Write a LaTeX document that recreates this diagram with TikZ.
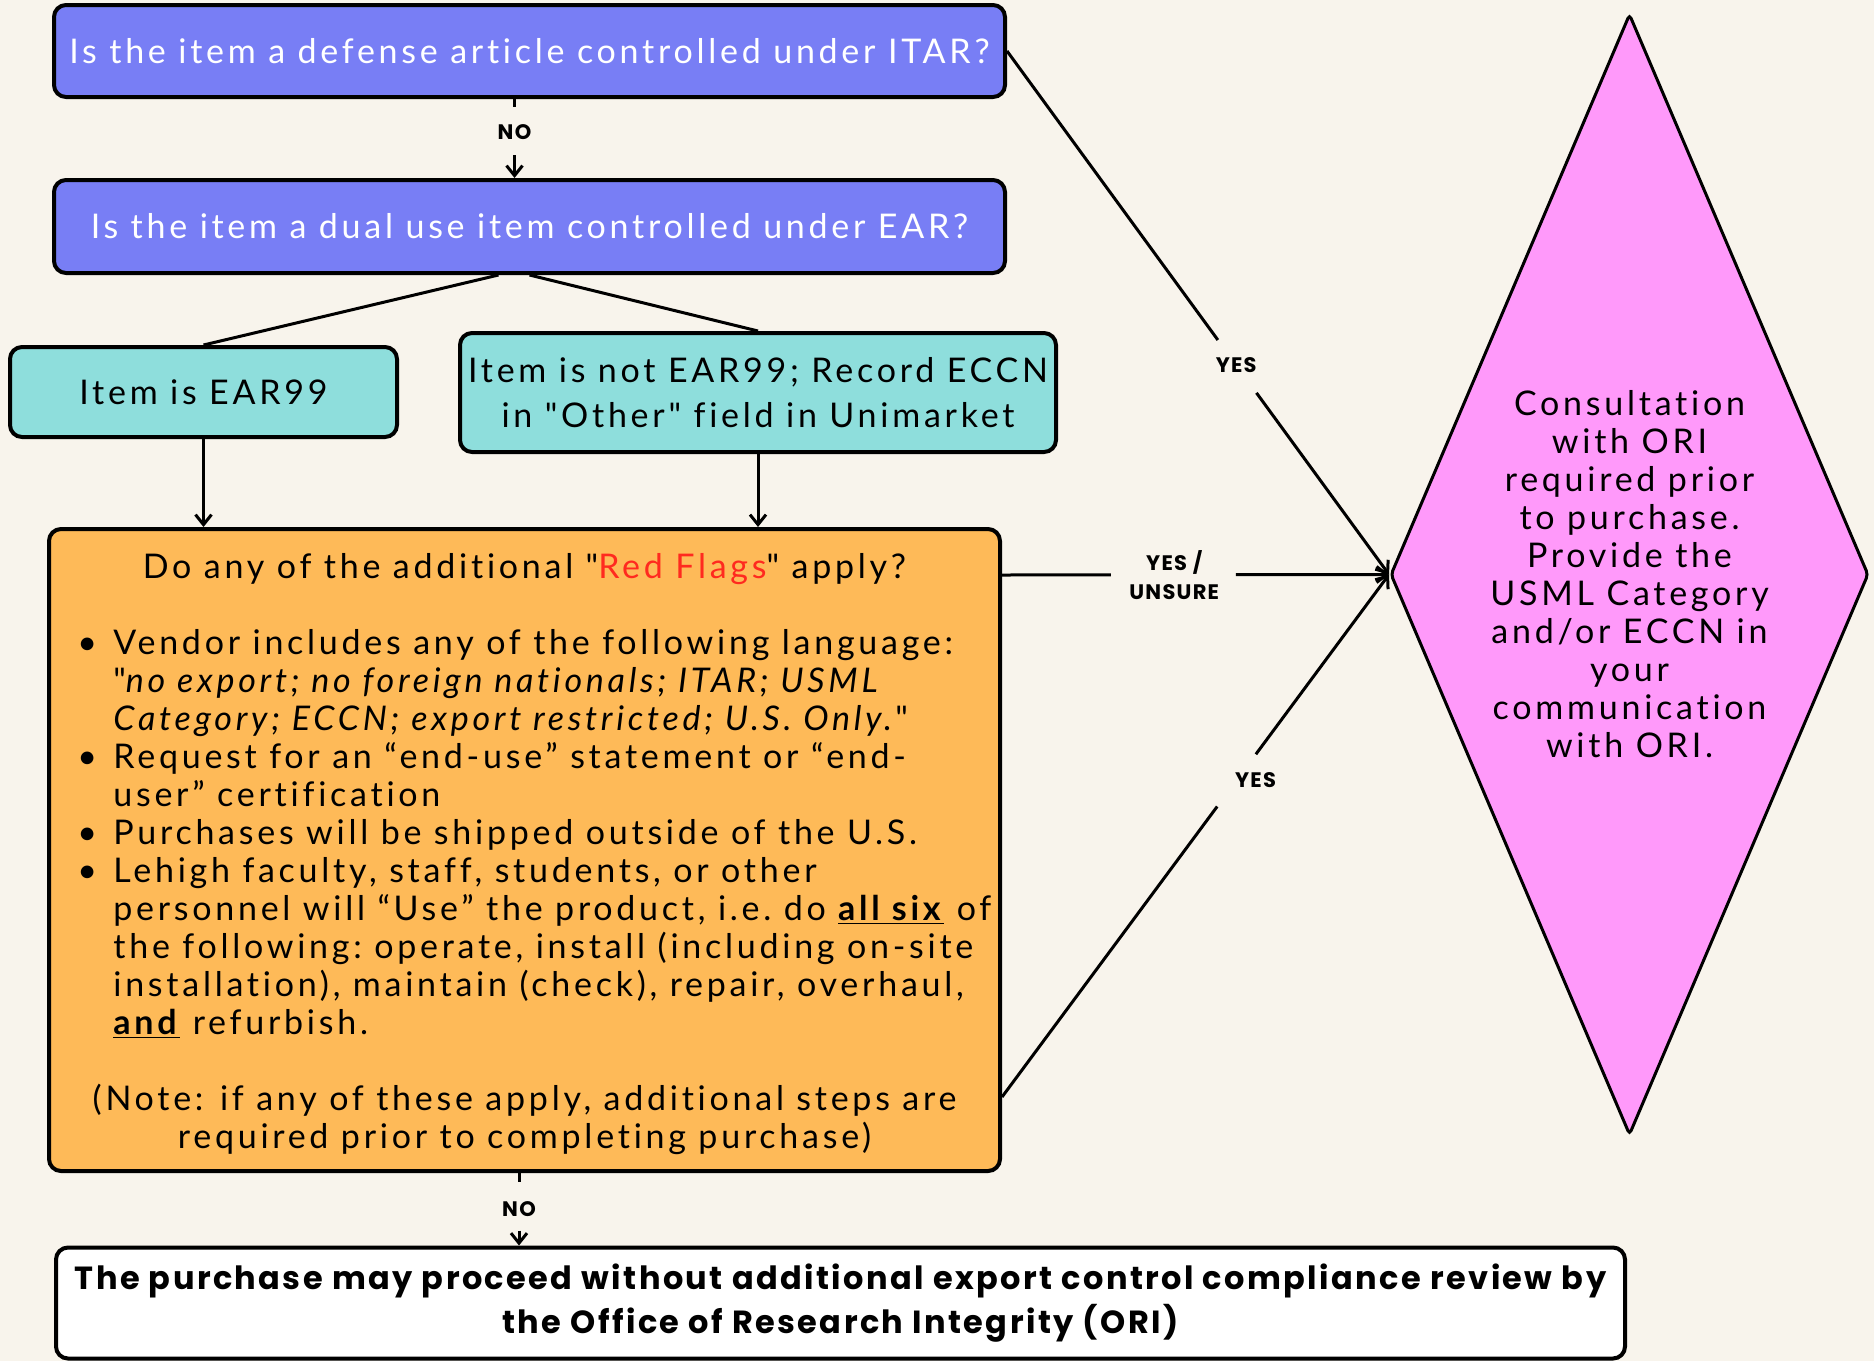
\documentclass[tikz,border=0pt]{standalone}
\usepackage{fontspec}
\setmainfont{Lato}[LetterSpace=11, Ligatures={TeXOff,CommonOff}]
\newfontfamily\popfont{Poppins}[LetterSpace=7.5]
\newfontfamily\popspaced{Poppins}[LetterSpace=6]
\usetikzlibrary{arrows.meta,shapes.geometric,calc}
\definecolor{bg}{HTML}{F8F4EC}
\definecolor{blueb}{HTML}{787EF5}
\definecolor{tealb}{HTML}{8EDEDC}
\definecolor{orangeb}{HTML}{FEBA58}
\definecolor{pinkb}{HTML}{FF99FA}
\definecolor{redflag}{HTML}{FF2A1F}
\newcommand{\sq}{\char34\relax}
\newcommand{\bitem}[1]{\par\noindent\hangindent=18pt\hangafter=1\makebox[18pt][l]{\textbullet}#1\par}
\tikzset{
  box/.style={draw, line width=2pt, rounded corners=6pt, inner sep=0pt, align=center},
  bluebox/.style={box, fill=blueb, text=white, font=\fontsize{17}{20}\selectfont},
  tealbox/.style={box, fill=tealb, font=\fontsize{17}{22.5}\selectfont},
  conn/.style={line width=1.5pt},
  arr/.style={conn, -{Straight Barb[length=5pt,width=8pt]}},
  lbl/.style={font=\popspaced\bfseries\fontsize{10.5}{14.5}\selectfont, inner sep=0pt, align=center},
  bodytext/.style={font=\fontsize{17}{19}\selectfont, inner sep=0pt},
}
\begin{document}
\begin{tikzpicture}[x=0.5pt, y=-0.5pt]
\fill[bg] (0,0) rectangle (1874,1361);
\useasboundingbox (0,0) rectangle (1874,1361);

% boxes
\node[bluebox, minimum width=475.5pt, minimum height=46pt] (itar) at (529.5,51)
  {Is the item a defense article controlled under ITAR?};
\node[bluebox, minimum width=475.5pt, minimum height=46.5pt] (ear) at (529.5,226.5)
  {Is the item a dual use item controlled under EAR?};
\node[tealbox, minimum width=193.5pt, minimum height=45pt] (ear99) at (203.5,392)
  {Item is EAR99};
\node[tealbox, minimum width=298pt, minimum height=59.5pt] (notear) at (758,392.5)
  {Item is not EAR99; Record ECCN\\in \sq Other\sq{} field in Unimarket};
\node[box, fill=orangeb, minimum width=475.5pt, minimum height=321pt] (flags) at (524.5,850) {};
\node[box, fill=white, minimum width=784.5pt, minimum height=55.5pt,
      font=\popfont\bfseries\fontsize{16}{22}\selectfont] (proceed) at (840.5,1303)
  {The purchase may proceed without additional export control compliance review by\\the Office of Research Integrity (ORI)};
\node[draw, line width=1.5pt, fill=pinkb, diamond, minimum width=239pt, minimum height=560.5pt,
      inner sep=0pt, rounded corners=2pt] (dia) at (1629.5,574.5) {};

% texts inside orange box and diamond
\node[bodytext] (flagtitle) at (524.5,569)
  {Do any of the additional \sq\textcolor{redflag}{Red Flags}\sq{} apply?};
\node[bodytext, anchor=west] (flaglist) at (77,834)
  {\parbox{470pt}{\raggedright
   \bitem{Vendor includes any of the following language:\newline\sq\textit{no export; no foreign nationals; ITAR; USML}\newline\textit{Category; ECCN; export restricted; U.S. Only.}\sq}
   \bitem{Request for an “end-use” statement or “end-\newline user” certification}
   \bitem{Purchases will be shipped outside of the U.S.}
   \bitem{Lehigh faculty, staff, students, or other\newline personnel will “Use” the product, i.e.\ do \underline{\textbf{all six}} of\newline the following:\ operate, install (including on-site\newline installation), maintain (check), repair, overhaul,\newline\underline{\textbf{and}} refurbish.}}};
\node[bodytext, align=center] (flagnote) at (524.5,1119)
  {(Note: if any of these apply, additional steps are\\required prior to completing purchase)};
\node[bodytext, align=center] (diatext) at (dia.center)
  {Consultation\\with ORI\\required prior\\to purchase.\\Provide the\\USML Category\\and/or ECCN in\\your\\communication\\with ORI.};

% NO connector 1
\draw[conn] ($(itar.south)+(-15,0)$) -- ($(itar.south)+(-15,8)$);
\node[lbl] (no1) at ($(itar.south)+(-15,33)$) {NO};
\draw[arr] ($(ear.north)+(-15,-23)$) -- ($(ear.north)+(-15,0)$);

% EAR split
\draw[conn] ($(ear.south)+(-31,0)$) -- (ear99.north);
\draw[conn] (ear.south) -- (notear.north);
\draw[arr] (ear99.south) -- (ear99.south |- flags.north);
\draw[arr] (notear.south) -- (notear.south |- flags.north);

% NO connector 2
\draw[conn] ($(flags.south)+(-5.5,0)$) -- ($(flags.south)+(-5.5,9)$);
\node[lbl] (no2) at ($(flags.south)+(-5.5,36)$) {NO};
\draw[arr] ($(proceed.north)+(-321.5,-15)$) -- ($(proceed.north)+(-321.5,0)$);

% YES from ITAR
\coordinate (s1) at (itar.east);
\draw[conn] (s1) -- ($(s1)!0.552!(dia.west)$);
\draw[arr] ($(s1)!0.653!(dia.west)$) -- (dia.west);
\node[lbl] (yes1) at ($(s1)!0.6!(dia.west)$) {YES};

% YES / UNSURE
\coordinate (s2) at ($(flags.east)+(0,-275)$);
\draw[conn] (s2) -- ($(s2)!0.281!(dia.west)$);
\draw[arr] ($(s2)!0.604!(dia.west)$) -- (dia.west);
\node[lbl] (yes2) at ($(s2)!0.445!(dia.west)$) {YES /\\UNSURE};

% YES lower
\coordinate (s3) at ($(flags.east)+(0,247)$);
\draw[conn] (s3) -- ($(s3)!0.556!(dia.west)$);
\draw[arr] ($(s3)!0.656!(dia.west)$) -- (dia.west);
\node[lbl] (yes3) at ($(s3)!0.606!(dia.west)+(19,0)$) {YES};
\end{tikzpicture}
\end{document}
